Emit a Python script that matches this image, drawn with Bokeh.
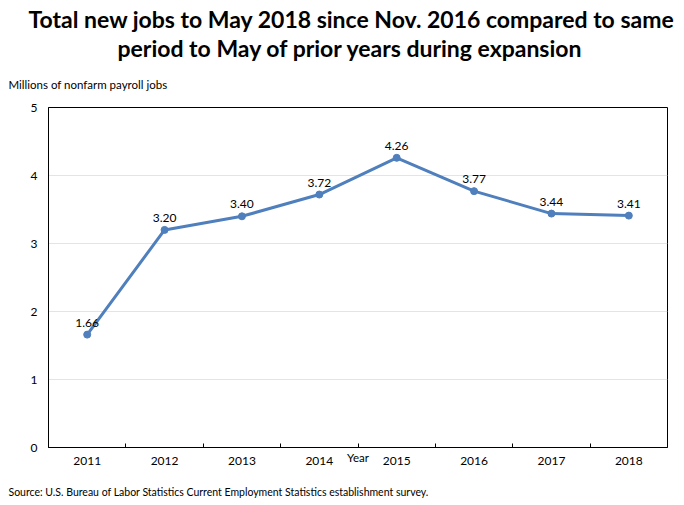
from bokeh.plotting import figure
from bokeh.models import FixedTicker, Range1d, ColumnDataSource, LabelSet, Title
from bokeh.core.properties import value
from bokeh.embed import file_html
from bokeh.resources import INLINE

years = ["2011", "2012", "2013", "2014", "2015", "2016", "2017", "2018"]
jobs = [1.66, 3.20, 3.40, 3.72, 4.26, 3.77, 3.44, 3.41]
y_ticks = [0, 1, 2, 3, 4, 5]

FONT = "Lato"
idx = list(range(len(years)))
src = ColumnDataSource(dict(x=idx, y=jobs, lab=["%.2f" % v for v in jobs]))

p = figure(width=676, height=505, output_backend="svg", toolbar_location=None,
           x_range=Range1d(-0.5, len(years) - 0.5), y_range=Range1d(0, 5),
           min_border_left=48, min_border_right=9, min_border_top=0, min_border_bottom=0,
           title=None)
p.background_fill_color = "white"
p.border_fill_color = "white"
p.outline_line_color = "black"
p.outline_line_width = 1

p.line("x", "y", source=src, line_color="#4F7FBC", line_width=3)
p.scatter("x", "y", source=src, size=7, fill_color="#4F7FBC", line_color="#4F7FBC")
p.add_layout(LabelSet(x="x", y="y", text="lab", source=src, text_align="center",
                      text_baseline="bottom", y_offset=8, text_font=value(FONT),
                      text_font_size="12px", text_color="black"))

# axes
p.xaxis.ticker = FixedTicker(ticks=idx, minor_ticks=[i + 0.5 for i in idx[:-1]])
p.xaxis.major_label_overrides = {i: y for i, y in zip(idx, years)}
p.xaxis.major_tick_line_color = None
p.xaxis.minor_tick_in = 4
p.xaxis.minor_tick_out = 0
p.xaxis.minor_tick_line_color = "black"
p.xaxis.axis_line_color = "black"
p.xaxis.major_label_text_font = FONT
p.xaxis.major_label_text_font_size = "12px"
p.xaxis.major_label_text_color = "black"
p.xaxis.major_label_standoff = 3
p.xaxis.axis_label = "Year"
p.xaxis.axis_label_text_font = FONT
p.xaxis.axis_label_text_font_size = "11.5px"
p.xaxis.axis_label_text_font_style = "normal"
p.xaxis.axis_label_text_color = "black"
p.xaxis.axis_label_standoff = -17

p.yaxis.ticker = FixedTicker(ticks=y_ticks)
p.yaxis.major_tick_line_color = None
p.yaxis.minor_tick_line_color = None
p.yaxis.axis_line_color = "black"
p.yaxis.major_label_text_font = FONT
p.yaxis.major_label_text_font_size = "12px"
p.yaxis.major_label_text_color = "black"
p.yaxis.major_label_standoff = 5

p.xgrid.grid_line_color = None
p.ygrid.grid_line_color = "#e4e4e4"
p.ygrid.grid_line_width = 1

# texts above (added from the frame outward)
p.add_layout(Title(text="Millions of nonfarm payroll jobs", align="left", offset=-40,
                   text_font=FONT, text_font_size="11.5px", text_font_style="normal",
                   text_color="black", standoff=34), "above")
p.add_layout(Title(text="period to May of prior years during expansion", align="left",
                   offset=69, text_font=FONT, text_font_size="23px", text_font_style="bold",
                   text_color="black", standoff=-6), "above")
p.add_layout(Title(text="Total new jobs to May 2018 since Nov. 2016 compared to same",
                   align="left", offset=-20, text_font=FONT, text_font_size="23px",
                   text_font_style="bold", text_color="black", standoff=4), "above")
# below: a small blank gap, then the source note
p.add_layout(Title(text=" ", align="left", text_font=FONT, text_font_size="4px",
                   standoff=2), "below")
p.add_layout(Title(text="Source: U.S. Bureau of Labor Statistics Current Employment Statistics establishment survey.",
                   align="left", offset=-40, text_font=FONT, text_font_size="10.5px",
                   text_font_style="normal", text_color="black", standoff=16), "below")

open("out.html", "w").write(file_html(p, INLINE))
